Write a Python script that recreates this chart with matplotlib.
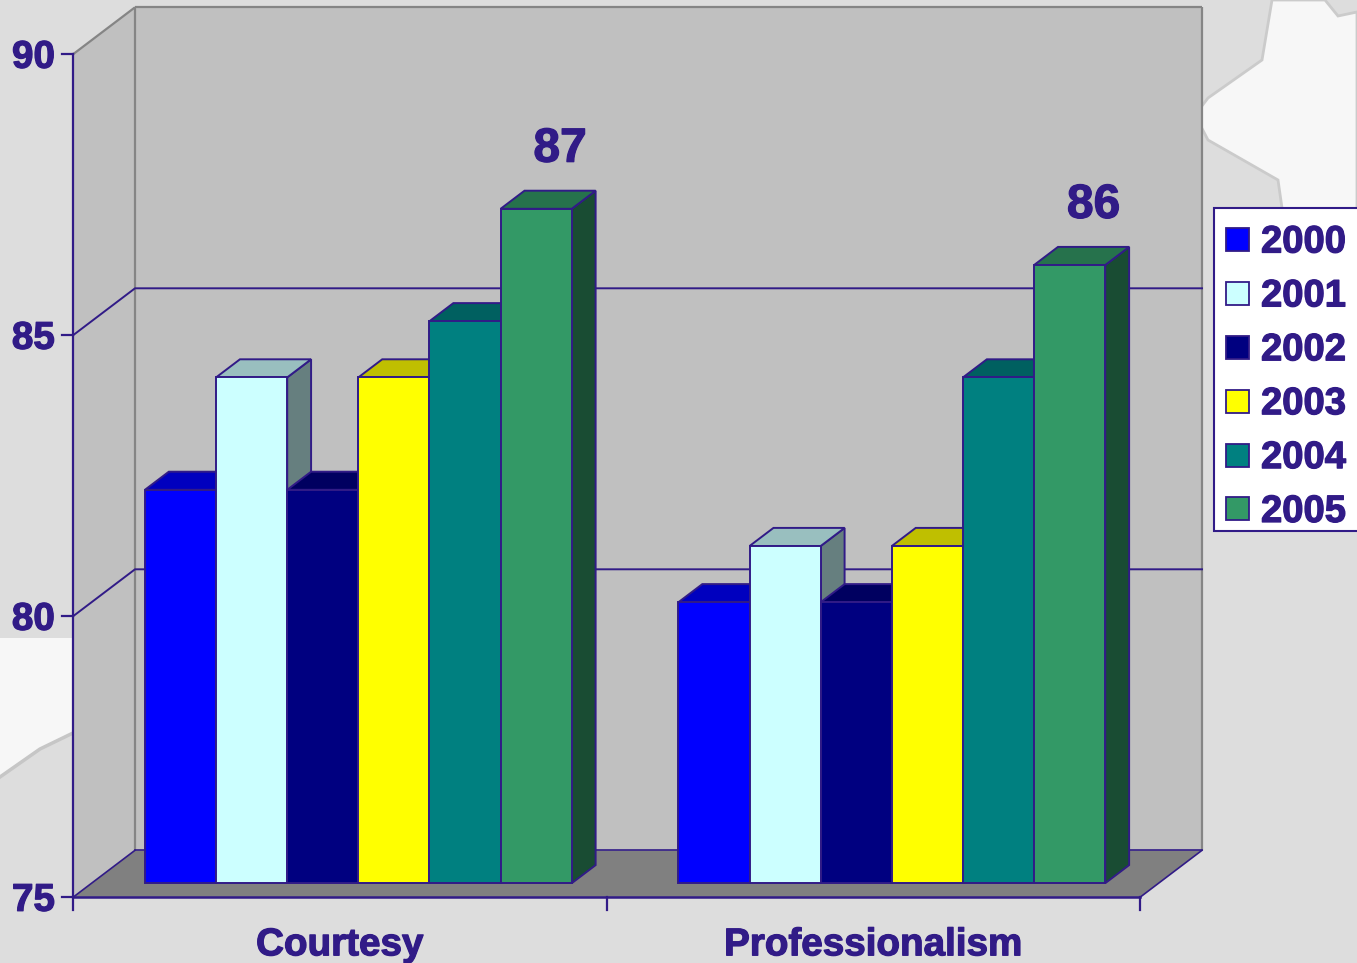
import matplotlib
matplotlib.use("Agg")
import matplotlib.pyplot as plt
from matplotlib.patches import Polygon, Rectangle
from matplotlib.transforms import Affine2D
import matplotlib.patheffects as pe

# ---- data -------------------------------------------------------------
categories = ["Courtesy", "Professionalism"]
years = ["2000", "2001", "2002", "2003", "2004", "2005"]
courtesy = [82, 84, 82, 84, 85, 87]
professionalism = [80, 81, 80, 81, 84, 86]
y_ticks = [75, 80, 85, 90]

# ---- style ------------------------------------------------------------
front_colors = ["#0000ff", "#ccffff", "#000080", "#ffff00", "#008080", "#339966"]
INK = "#311b87"
WALL = "#c0c0c0"
FLOOR = "#808080"
EDGE_GRAY = "#858585"
BG = "#dddddd"
FONT = "Liberation Sans"
BOLDER = [pe.withStroke(linewidth=0.9, foreground=INK)]

W, H, DPI = 1357, 963, 100
fig = plt.figure(figsize=(W / DPI, H / DPI), dpi=DPI, facecolor=BG)
ax = fig.add_axes([0, 0, 1, 1])
ax.set_axis_off()

# axis scales: x in category units, y in score units
PX_CAT = 533.5          # pixels per category slot
PX_VAL = 56.2           # pixels per score point
X0_PX, Y75_PX = 73, 897.3
ax.set_xlim(-X0_PX / PX_CAT, (W - X0_PX) / PX_CAT)
ax.set_ylim(75 - (H - Y75_PX) / PX_VAL, 75 + Y75_PX / PX_VAL)
VMIN, VMAX = y_ticks[0], y_ticks[-1]

# oblique depth vector (full depth) in data units
DX = 62 / PX_CAT
DY = 47 / PX_VAL


def P(x, v, d):
    """Project a point (category x, value v, depth d) onto the axes."""
    return (x + d * DX, v + d * DY)


def shade(hex_color, f):
    r, g, b = (int(hex_color[i:i + 2], 16) for i in (1, 3, 5))
    return "#%02x%02x%02x" % (int(r * f), int(g * f), int(b * f))


# pixel transform for decorative background and legend
pix = Affine2D().scale(1 / W, -1 / H).translate(0, 1) + fig.transFigure

# ---- background blobs (behind the axes) ----------------------------------
star = [(1272, 0), (1262, 60), (1208, 98), (1195, 115), (1208, 140),
        (1278, 180), (1283, 215), (1357, 215), (1357, 12), (1338, 16), (1325, 0)]
fig.patches.append(Polygon(star, closed=True, transform=pix, facecolor="#f7f7f7",
                           edgecolor="#cbcbcb", lw=2.0, zorder=-2))
blob = [(0, 638), (140, 638), (140, 722), (100, 727), (73, 733), (40, 749), (0, 777)]
fig.patches.append(Polygon(blob, closed=True, transform=pix, facecolor="#f7f7f7",
                           edgecolor="none", zorder=-2))
fig.lines.append(plt.Line2D([0, 40, 73, 100, 140], [777, 749, 733, 727, 722],
                            transform=pix, color="#c6c6c6", lw=2.5, zorder=-1))

# ---- walls and floor ----------------------------------------------------
NCAT = len(categories)
left_wall = [P(0, VMIN, 0), P(0, VMIN, 1), P(0, VMAX, 1), P(0, VMAX, 0)]
back_wall = [P(0, VMIN, 1), P(NCAT, VMIN, 1), P(NCAT, VMAX, 1), P(0, VMAX, 1)]
floor = [P(0, VMIN, 0), P(NCAT, VMIN, 0), P(NCAT, VMIN, 1), P(0, VMIN, 1)]
ax.add_patch(Polygon(left_wall, closed=True, facecolor=WALL, edgecolor="none", zorder=1))
ax.add_patch(Polygon(back_wall, closed=True, facecolor=WALL, edgecolor="none", zorder=1))
ax.add_patch(Polygon(floor, closed=True, facecolor=FLOOR, edgecolor="none", zorder=1.5))

# gray wall edges
for a, b in [(P(0, VMAX, 0), P(0, VMAX, 1)), (P(0, VMAX, 1), P(NCAT, VMAX, 1)),
             (P(0, VMIN, 1), P(0, VMAX, 1)), (P(NCAT, VMIN, 1), P(NCAT, VMAX, 1))]:
    ax.plot([a[0], b[0]], [a[1], b[1]], color=EDGE_GRAY, lw=1.6, zorder=1.2,
            solid_capstyle="butt")

# gridlines on the walls
for t in y_ticks[1:-1]:
    pts = [P(0, t, 0), P(0, t, 1), P(NCAT, t, 1)]
    ax.plot([p[0] for p in pts], [p[1] for p in pts], color=INK, lw=1.4, zorder=1.3)

# floor outline
for a, b in [(P(0, VMIN, 1), P(NCAT, VMIN, 1)), (P(NCAT, VMIN, 0), P(NCAT, VMIN, 1)),
             (P(0, VMIN, 0), P(0, VMIN, 1))]:
    ax.plot([a[0], b[0]], [a[1], b[1]], color=INK, lw=1.2, zorder=1.6)

# ---- bars ---------------------------------------------------------------
series = [courtesy, professionalism]
nser = len(years)
bw = 1 / 7.5
D0, D1 = 0.30, 0.685
z = 3
for ci, vals in enumerate(series):
    start = ci + (1 - nser * bw) / 2
    for j, v in enumerate(vals):
        xl, xr = start + j * bw, start + (j + 1) * bw
        c = front_colors[j]
        front = [P(xl, VMIN, D0), P(xr, VMIN, D0), P(xr, v, D0), P(xl, v, D0)]
        top = [P(xl, v, D0), P(xr, v, D0), P(xr, v, D1), P(xl, v, D1)]
        side = [P(xr, VMIN, D0), P(xr, VMIN, D1), P(xr, v, D1), P(xr, v, D0)]
        for face, f in [(side, 0.5), (top, 0.75), (front, 1.0)]:
            ax.add_patch(Polygon(face, closed=True, facecolor=shade(c, f),
                                 edgecolor=INK, lw=1.4, joinstyle="miter", zorder=z))
        z += 0.1
    # value label on the latest year
    v = vals[-1]
    cx = start + (nser - 0.5) * bw
    ax.annotate(f"{v}", xy=P(cx, v, D1), xytext=(0, 29), textcoords="offset pixels",
                ha="center", va="baseline", color=INK, fontsize=34.5,
                fontweight="bold", family=FONT, zorder=20, path_effects=BOLDER)

# ---- axes lines, ticks, labels --------------------------------------------
ax.plot([0, 0], [VMIN, VMAX], color=INK, lw=1.6, zorder=10)
ax.plot([0, NCAT], [VMIN, VMIN], color=INK, lw=1.8, zorder=10)
tick_len_v = 13 / PX_VAL
tick_len_c = 11 / PX_CAT
for k in range(NCAT + 1):
    ax.plot([k, k], [VMIN, VMIN - tick_len_v], color=INK, lw=1.6, zorder=10)
for t in y_ticks:
    ax.plot([-tick_len_c, 0], [t, t], color=INK, lw=1.6, zorder=10)
    ax.annotate(f"{t}", xy=(0, t), xytext=(-18, -13.5), textcoords="offset pixels",
                ha="right", va="baseline", color=INK, fontsize=27.8,
                fontweight="bold", family=FONT, zorder=20, path_effects=BOLDER)
for ci, name in enumerate(categories):
    ax.annotate(name, xy=(ci + 0.5, VMIN), xytext=(0, -58), textcoords="offset pixels",
                ha="center", va="baseline", color=INK, fontsize=27.8,
                fontweight="bold", family=FONT, zorder=20, path_effects=BOLDER)

# ---- legend -------------------------------------------------------------
fig.patches.append(Rectangle((1214, 208), 170, 323, transform=pix, facecolor="white",
                             edgecolor=INK, lw=1.5, zorder=30))
for j, (yr, c) in enumerate(zip(years, front_colors)):
    cy = 239.5 + j * 53.9
    fig.patches.append(Rectangle((1226, cy - 11.5), 23, 23, transform=pix, facecolor=c,
                                 edgecolor=INK, lw=1.3, zorder=31))
    fig.text(1261 / W, 1 - (cy + 13) / H, yr, ha="left", va="baseline", color=INK,
             fontsize=27.5, fontweight="bold", family=FONT, zorder=32,
             path_effects=BOLDER)

fig.savefig("out.png", dpi=DPI, facecolor=BG)
